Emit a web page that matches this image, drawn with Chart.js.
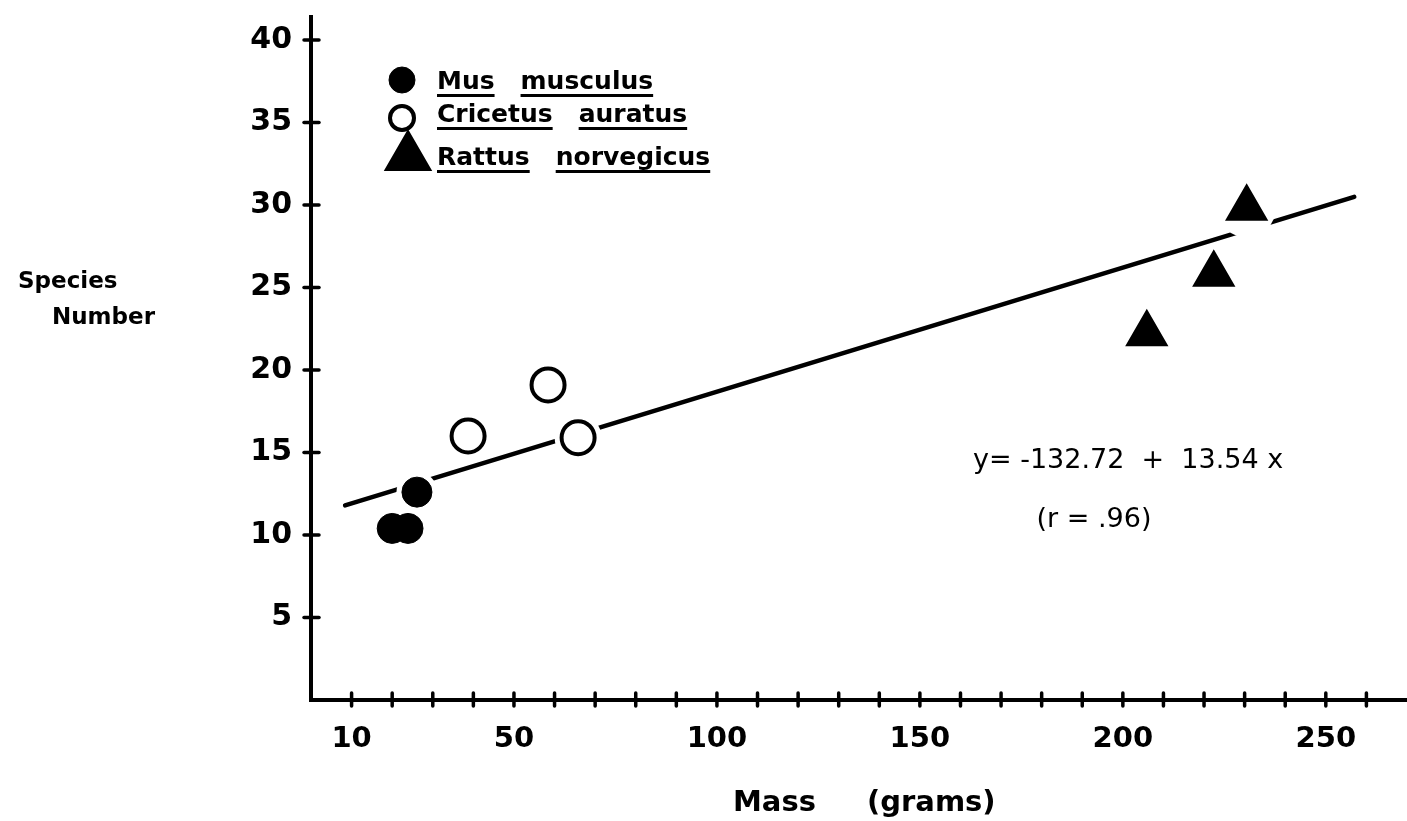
<!DOCTYPE html>
<html>
<head>
<meta charset="utf-8">
<title>Species Number vs Mass</title>
<script src="https://cdn.jsdelivr.net/npm/chart.js@4.4.1/dist/chart.umd.min.js"></script>
<style>
  html, body { margin: 0; padding: 0; background: #fff; }
  canvas { display: block; }
</style>
</head>
<body>
<canvas id="speciesChart" width="1407" height="821"></canvas>
<script>
// values: mass (grams) and species number
const musMass = [20.0, 23.9, 26.1];
const musSpecies = [10.4, 10.4, 12.6];
const cricetusMass = [38.7, 58.4, 65.8];
const cricetusSpecies = [16.0, 19.1, 15.9];
const rattusMass = [205.9, 222.4, 230.5];
const rattusSpecies = [22.2, 25.8, 29.8];

// ends of the fitted line as drawn
const fitMass = [8.4, 257];
const fitSpecies = [11.8, 30.5];

const xTickValues = [10, 20, 30, 40, 50, 60, 70, 80, 90, 100, 110, 120, 130, 140, 150, 160, 170, 180, 190, 200, 210, 220, 230, 240, 250, 260];
const xLabelValues = [10, 50, 100, 150, 200, 250];
const yTickValues = [5, 10, 15, 20, 25, 30, 35, 40];

const speciesNames = ['Mus musculus', 'Cricetus auratus', 'Rattus norvegicus'];
const equationText = 'y= -132.72  +  13.54 x';
const rText = '(r = .96)';

const FONT = "'DejaVu Sans', 'Liberation Sans', sans-serif";
Chart.defaults.font.family = FONT;
Chart.defaults.color = '#000';

const toPoints = (xs, ys) => xs.map((x, i) => ({ x: x, y: ys[i] }));

// white gap in the fitted line around each marker
const haloPlugin = {
    id: 'halo',
    afterDatasetDraw(chart, args) {
        if (chart.data.datasets[args.index].type !== 'line') return;
        const ctx = chart.ctx;
        ctx.save();
        ctx.fillStyle = '#fff';
        chart.data.datasets.forEach((ds, i) => {
            if (ds.type === 'line') return;
            chart.getDatasetMeta(i).data.forEach(el => {
                const r = el.options.radius + el.options.borderWidth / 2 + 5;
                ctx.beginPath();
                ctx.arc(el.x, el.y, r, 0, Math.PI * 2);
                ctx.fill();
            });
        });
        ctx.restore();
    }
};

// tick marks crossing both axes
const crossTicks = {
    id: 'crossTicks',
    afterDraw(chart) {
        const { ctx, chartArea, scales } = chart;
        ctx.save();
        ctx.strokeStyle = '#000';
        ctx.lineWidth = 3.5;
        ctx.lineCap = 'round';
        scales.y.ticks.forEach(t => {
            const py = scales.y.getPixelForValue(t.value);
            ctx.beginPath();
            ctx.moveTo(chartArea.left - 7, py);
            ctx.lineTo(chartArea.left + 8, py);
            ctx.stroke();
        });
        scales.x.ticks.forEach(t => {
            const px = scales.x.getPixelForValue(t.value);
            ctx.beginPath();
            ctx.moveTo(px, chartArea.bottom - 7);
            ctx.lineTo(px, chartArea.bottom + 6);
            ctx.stroke();
        });
        ctx.restore();
    }
};

// legend, equation and axis titles
const annotations = {
    id: 'annotations',
    afterDraw(chart) {
        const ctx = chart.ctx;
        ctx.save();
        ctx.fillStyle = '#000';

        const markerPos = [[402, 80], [402, 118], [408, 157]];
        const markerRadius = [13, 12, 26];
        const baselines = [89, 122, 165];
        chart.data.datasets.filter(ds => ds.type !== 'line').forEach((ds, i) => {
            ctx.fillStyle = ds.backgroundColor;
            ctx.strokeStyle = ds.borderColor;
            ctx.lineWidth = ds.borderWidth;
            Chart.helpers.drawPoint(ctx, {
                pointStyle: ds.pointStyle,
                radius: markerRadius[i],
                borderWidth: ds.borderWidth,
                rotation: 0
            }, markerPos[i][0], markerPos[i][1]);

            ctx.fillStyle = '#000';
            ctx.font = 'bold 25px ' + FONT;
            ctx.textBaseline = 'alphabetic';
            ctx.textAlign = 'left';
            let x = 437;
            ds.label.split(' ').forEach(word => {
                const w = ctx.measureText(word).width;
                ctx.fillText(word, x, baselines[i]);
                ctx.fillRect(x, baselines[i] + 5, w, 3);
                x += w + 26;
            });
        });

        ctx.fillStyle = '#000';
        ctx.font = '27px ' + FONT;
        ctx.textBaseline = 'middle';
        ctx.textAlign = 'left';
        ctx.fillText(equationText, 973, 461);
        ctx.textAlign = 'center';
        ctx.fillText(rText, 1094, 520);

        ctx.font = 'bold 23px ' + FONT;
        ctx.textAlign = 'left';
        ctx.fillText('Species', 18, 282);
        ctx.fillText('Number', 52, 318);

        ctx.font = 'bold 29px ' + FONT;
        ctx.fillText('Mass', 733, 803);
        ctx.fillText('(grams)', 867, 803);
        ctx.restore();
    }
};

const ctx = document.getElementById('speciesChart').getContext('2d');
new Chart(ctx, {
    type: 'scatter',
    data: {
        datasets: [
            {
                type: 'line',
                label: 'fit',
                data: toPoints(fitMass, fitSpecies),
                borderColor: '#000',
                borderWidth: 4.5,
                borderCapStyle: 'round',
                pointRadius: 0,
                order: 2
            },
            {
                label: speciesNames[0],
                data: toPoints(musMass, musSpecies),
                pointStyle: 'circle',
                radius: 15,
                backgroundColor: '#000',
                borderColor: '#000',
                borderWidth: 1,
                order: 1
            },
            {
                label: speciesNames[1],
                data: toPoints(cricetusMass, cricetusSpecies),
                pointStyle: 'circle',
                radius: 16.5,
                backgroundColor: '#fff',
                borderColor: '#000',
                borderWidth: 4,
                order: 1
            },
            {
                label: speciesNames[2],
                data: toPoints(rattusMass, rattusSpecies),
                pointStyle: 'triangle',
                radius: 23,
                backgroundColor: '#000',
                borderColor: '#000',
                borderWidth: 2,
                order: 1
            }
        ]
    },
    options: {
        responsive: false,
        animation: false,
        layout: { autoPadding: false, padding: { top: 12, right: 0, left: 0, bottom: 0 } },
        scales: {
            x: {
                type: 'linear',
                min: 0,
                max: 270,
                grid: { display: false },
                border: { display: true, color: '#000', width: 4 },
                afterBuildTicks: scale => { scale.ticks = xTickValues.map(v => ({ value: v })); },
                afterFit: scale => { scale.height = 121; },
                ticks: {
                    autoSkip: false,
                    maxRotation: 0,
                    padding: 14,
                    font: { size: 29, weight: 'bold' },
                    callback: v => xLabelValues.includes(v) ? String(v) : ''
                }
            },
            y: {
                min: 0,
                max: 41.4,
                grid: { display: false },
                border: { display: true, color: '#000', width: 4 },
                afterBuildTicks: scale => { scale.ticks = yTickValues.map(v => ({ value: v })); },
                afterFit: scale => { scale.width = 311; },
                ticks: {
                    padding: 11,
                    font: { size: 30, weight: 'bold', lineHeight: 0.4 }
                }
            }
        },
        plugins: {
            legend: { display: false },
            tooltip: { enabled: false }
        }
    },
    plugins: [haloPlugin, crossTicks, annotations]
});
</script>
</body>
</html>
